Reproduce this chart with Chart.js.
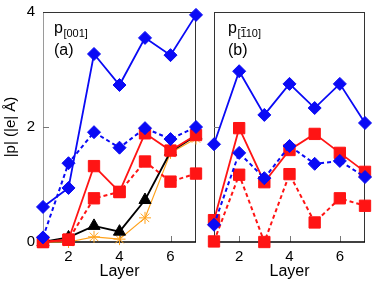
<!DOCTYPE html>
<html>
<head>
<meta charset="utf-8">
<script src="https://cdn.jsdelivr.net/npm/chart.js@4"></script>
<style>
  html, body { margin: 0; padding: 0; background: #fff; }
  #wrap { position: relative; width: 374px; height: 284px; }
  canvas { position: absolute; top: 0; }
</style>
</head>
<body>
<div id="wrap">
  <canvas id="panel-a" width="205" height="284" style="left:0"></canvas>
  <canvas id="panel-b" width="169" height="284" style="left:205px"></canvas>
</div>
<script>
const layers = [1, 2, 3, 4, 5, 6, 7]
const xTicks = [2, 4, 6]
const yTicks = [0, 2, 4]

// panel (a), p[001]
const aBlueSolid = [0.61, 0.94, 3.27, 2.73, 3.55, 3.25, 3.95]
const aBlueDash  = [0.08, 1.37, 1.91, 1.64, 1.98, 1.79, 2.00]
const aRedSolid  = [0.00, 0.04, 1.32, 0.87, 1.89, 1.59, 1.86]
const aRedDash   = [0.00, 0.04, 0.76, 0.87, 1.40, 1.05, 1.19]
const aBlack     = [0.00, 0.08, 0.28, 0.18, 0.73, 1.57, 1.85]
const aOrange    = [0.00, 0.00, 0.09, 0.05, 0.42, 1.55, 1.80]

// panel (b), p[-110]
const bBlueSolid = [1.70, 2.97, 2.21, 2.75, 2.33, 2.75, 2.07]
const bBlueDash  = [0.30, 1.55, 1.11, 1.67, 1.36, 1.41, 1.13]
const bRedSolid  = [0.38, 1.98, 1.04, 1.60, 1.88, 1.55, 1.22]
const bRedDash   = [0.01, 1.17, 0.00, 1.18, 0.34, 0.76, 0.63]

const BLUE = "#0a0af5"
const RED = "#ff1414"
const ORANGE = "#ffa21c"
const FONT = "'Liberation Sans', Arial, Helvetica, sans-serif"

Chart.defaults.font.family = FONT
Chart.defaults.color = "#000"

function series(values, color, style, radius, dashed, width) {
  return {
    data: layers.map((l, i) => ({ x: l, y: values[i] })),
    borderColor: color,
    backgroundColor: color,
    borderWidth: width || 1.8,
    borderDash: dashed ? [4, 3] : [],
    pointStyle: style,
    pointRadius: radius,
    pointBorderWidth: 1,
    pointBorderColor: color,
    pointBackgroundColor: color,
    tension: 0,
    clip: false
  }
}

// frame + inward tick marks
const frame = {
  id: "frame",
  beforeDatasetsDraw(chart, args, opts) {
    const { ctx, chartArea: a, scales } = chart
    ctx.save()
    ctx.lineWidth = 1
    ctx.strokeStyle = opts.leftColor
    ctx.beginPath(); ctx.moveTo(a.left + 0.5, a.top); ctx.lineTo(a.left + 0.5, a.bottom); ctx.stroke()
    ctx.strokeStyle = "#333"
    ctx.beginPath()
    ctx.moveTo(a.left, a.top + 0.5); ctx.lineTo(a.right, a.top + 0.5)
    ctx.moveTo(a.right - 0.5, a.top); ctx.lineTo(a.right - 0.5, a.bottom)
    ctx.stroke()
    ctx.strokeStyle = "#777"
    ctx.beginPath()
    for (const v of xTicks) {
      const px = Math.round(scales.x.getPixelForValue(v)) + 0.5
      ctx.moveTo(px, a.bottom); ctx.lineTo(px, a.bottom - 6)
    }
    const py = Math.round(scales.y.getPixelForValue(2)) + 0.5
    ctx.moveTo(a.left, py); ctx.lineTo(a.left + 6, py)
    ctx.stroke()
    ctx.strokeStyle = "#000"
    ctx.lineWidth = 1.5
    ctx.beginPath(); ctx.moveTo(a.left, a.bottom); ctx.lineTo(a.right, a.bottom); ctx.stroke()
    ctx.restore()
  }
}

// "p[...]" and "(a)" labels
const panelLabel = {
  id: "panelLabel",
  afterDraw(chart, args, opts) {
    const { ctx, chartArea: a } = chart
    const x = a.left + opts.dx
    ctx.save()
    ctx.fillStyle = "#000"
    ctx.textBaseline = "alphabetic"
    ctx.font = "16px " + FONT
    ctx.fillText("p", x, 33)
    const pw = ctx.measureText("p").width
    ctx.font = "11px " + FONT
    const sx = x + pw + 0.5
    ctx.fillText(opts.sub, sx, 37)
    if (opts.bar) {
      const w0 = ctx.measureText("[").width
      const w1 = ctx.measureText("1").width
      ctx.strokeStyle = "#000"
      ctx.lineWidth = 0.8
      ctx.beginPath()
      ctx.moveTo(sx + w0 + 0.5, 27.5); ctx.lineTo(sx + w0 + w1 - 0.5, 27.5)
      ctx.stroke()
    }
    ctx.font = "16px " + FONT
    ctx.fillText(opts.tag, x, 55)
    ctx.restore()
  }
}

function makePanel(canvas, datasets, o) {
  return new Chart(canvas, {
    type: "line",
    data: { datasets },
    options: {
      responsive: false,
      animation: false,
      layout: { padding: { left: o.padLeft, right: o.padRight, top: 12, bottom: 0 } },
      plugins: {
        legend: { display: false },
        tooltip: { enabled: false },
        frame: { leftColor: o.leftColor },
        panelLabel: { dx: o.labelDx, sub: o.sub, tag: o.tag, bar: o.bar }
      },
      scales: {
        x: {
          type: "linear",
          min: 1,
          max: 7,
          afterBuildTicks: s => { s.ticks = xTicks.map(v => ({ value: v })) },
          ticks: { font: { size: 15 }, color: "#000", padding: 0 },
          grid: { display: false, drawTicks: true, tickLength: 6 },
          border: { display: false },
          title: { display: true, text: "Layer", font: { size: 16 }, color: "#000", padding: { top: 0, bottom: 3 } },
          afterFit: s => { s.height = 42 }
        },
        y: {
          display: o.showY,
          min: 0,
          max: 4,
          afterBuildTicks: s => { s.ticks = yTicks.map(v => ({ value: v })) },
          ticks: { font: { size: 15 }, color: "#000", padding: 0 },
          grid: { display: false, drawTicks: true, tickLength: 8 },
          border: { display: false },
          title: { display: true, text: "|p| (|e| Å)", font: { size: 15 }, color: "#000", padding: { top: 2, bottom: 0 } },
          afterFit: s => { s.width = o.showY ? 43 : 0 }
        }
      }
    },
    plugins: [frame, panelLabel]
  })
}

makePanel(document.getElementById("panel-a"), [
  series(aBlueSolid, BLUE, "rectRot", 6.5, false),
  series(aBlueDash, BLUE, "rectRot", 6.5, true, 2),
  series(aRedSolid, RED, "rect", 8, false),
  series(aRedDash, RED, "rect", 8, true, 2),
  series(aBlack, "#000", "triangle", 7, false),
  series(aOrange, ORANGE, "star", 6, false, 1.2)
], { padLeft: 0, padRight: 6, leftColor: "#9a9a9a", labelDx: 11, sub: "[001]", tag: "(a)", bar: false, showY: true })

makePanel(document.getElementById("panel-b"), [
  series(bBlueSolid, BLUE, "rectRot", 6.5, false),
  series(bBlueDash, BLUE, "rectRot", 6.5, true, 2),
  series(bRedSolid, RED, "rect", 8, false),
  series(bRedDash, RED, "rect", 8, true, 2)
], { padLeft: 6, padRight: 8, leftColor: "#333", labelDx: 14, sub: "[110]", tag: "(b)", bar: true, showY: false })
</script>
</body>
</html>
